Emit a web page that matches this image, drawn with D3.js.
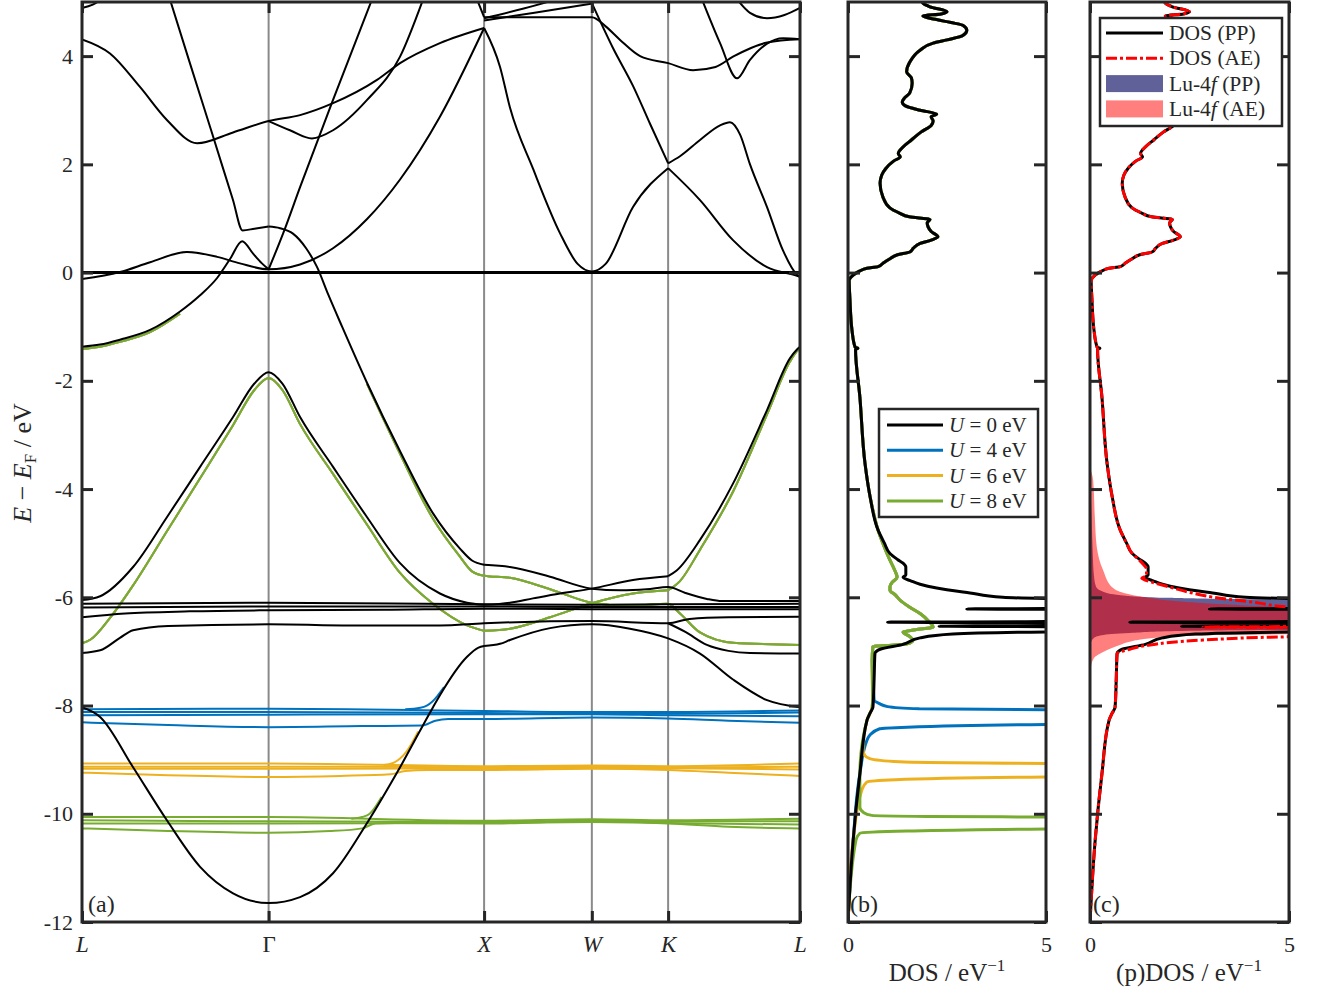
<!DOCTYPE html>
<html><head><meta charset="utf-8">
<script src="https://cdn.jsdelivr.net/npm/d3@7"></script>
<style>
body{margin:0;background:#fff}
text{font-family:"Liberation Serif","Times New Roman",serif;fill:#262626}
</style></head>
<body><svg id="fig" width="1320" height="991"></svg>
<script>
// ---------------- axis data ----------------
const kLabels = ["L","Γ","X","W","K","L"];
const kTicks  = [0, 0.866, 1.866, 2.366, 2.720, 3.332];
const yTicks  = [-12,-10,-8,-6,-4,-2,0,2,4];
const dosTicks = [0,5];
const legendB = ["0","4","6","8"];
const legendC = ["DOS (PP)","DOS (AE)","Lu-4f (PP)","Lu-4f (AE)"];

// ---------------- band structure, U = 0 (black) [k, E] ----------------
const bA  = [[0,4.31],[0.13,4.05],[0.269,3.43],[0.394,2.82],[0.534,2.39],[0.701,2.59],[0.866,2.80],[1.012,2.91],[1.165,3.13],[1.369,3.56],[1.476,3.87],[1.661,4.24],[1.866,4.52]];
const bB  = [[1.866,4.52],[1.940,3.80],[1.986,3.05],[2.093,1.92],[2.218,0.73],[2.30,0.16],[2.366,0.02],[2.43,0.16],[2.557,1.21],[2.720,1.93]];
const bB2 = [[2.720,1.93],[2.868,1.34],[3.021,0.60],[3.179,0.10],[3.318,-0.06],[3.332,-0.08]];
const bC  = [[0.866,2.80],[0.965,2.63],[1.067,2.48],[1.165,2.63],[1.323,3.19],[1.476,3.99],[1.583,5.05]];
const bD1 = [[0.408,5.05],[0.50,3.88],[0.60,2.62],[0.70,1.35],[0.745,0.78],[0.80,0.81],[0.866,0.85]];
const bD2 = [[0.866,0.85],[0.919,0.82],[0.979,0.72],[1.040,0.45],[1.091,0.10],[1.142,-0.40],[1.207,-1.0],[1.323,-2.04],[1.476,-3.3],[1.629,-4.45],[1.754,-5.1],[1.810,-5.32],[1.866,-5.40]];
const bD3 = [[1.866,-5.40],[1.986,-5.44],[2.172,-5.62],[2.366,-5.84],[2.50,-5.87],[2.62,-5.85],[2.720,-5.81],[2.80,-5.92],[2.90,-6.03],[2.97,-6.07],[3.332,-6.07]];
const bE1 = [[0,-1.37],[0.084,-1.33],[0.176,-1.24],[0.316,-1.06],[0.455,-0.72],[0.548,-0.42],[0.627,-0.10],[0.687,0.25],[0.743,0.58],[0.794,0.35],[0.835,0.17],[0.866,0.06]];
const bE2 = [[0.866,0.06],[0.933,0.72],[1.012,1.58],[1.165,3.19],[1.346,5.05]];
const bF  = [[0,-0.12],[0.176,0.01],[0.316,0.19],[0.487,0.38],[0.627,0.29],[0.733,0.17],[0.866,0.06],[1.012,0.15],[1.165,0.45],[1.323,0.99],[1.476,1.72],[1.661,2.88],[1.866,4.52]];
const bG1 = [[2.366,4.98],[2.464,4.15],[2.557,3.45],[2.636,2.75],[2.720,2.02]];
const bG2 = [[2.720,2.02],[2.775,2.15],[2.868,2.45],[2.961,2.72],[3.007,2.78],[3.054,2.55],[3.100,2.0],[3.179,1.21],[3.253,0.41],[3.318,-0.04],[3.332,-0.08]];
const bH1 = [[0,4.89],[0.05,4.95],[0.09,5.05]];
const bH2 = [[3.040,5.05],[3.10,4.80],[3.179,4.70],[3.26,4.76],[3.332,4.89]];
const bI  = [[2.877,5.05],[2.961,4.24],[3.040,3.59],[3.10,3.93],[3.179,4.23],[3.253,4.33],[3.332,4.31]];
const bJ  = [[1.866,4.72],[2.1,4.72],[2.366,4.72],[2.43,4.55],[2.497,4.30],[2.59,4.0],[2.720,3.87],[2.836,3.74],[2.94,3.80],[3.021,3.99],[3.18,4.25],[3.332,4.31]];
const bK1 = [[1.866,4.66],[2.1,4.80],[2.366,4.97]];
const bK2 = [[1.866,4.70],[2.05,4.88],[2.204,5.05]];
const bL  = [[1.833,5.05],[1.866,4.72]];
const bM1 = [[0,-6.05],[0.084,-5.98],[0.237,-5.44],[0.394,-4.52],[0.548,-3.59],[0.701,-2.67],[0.80,-2.05],[0.866,-1.84],[0.93,-2.05],[1.012,-2.67],[1.165,-3.59],[1.323,-4.52],[1.476,-5.37],[1.661,-5.93],[1.787,-6.10],[1.866,-6.14]];
const bM2 = [[1.866,-6.14],[1.986,-6.10],[2.093,-6.02],[2.218,-5.93],[2.366,-5.84],[2.557,-5.68],[2.720,-5.61]];
const bM3 = [[2.720,-5.61],[2.761,-5.50],[2.868,-4.94],[3.021,-3.90],[3.179,-2.54],[3.286,-1.58],[3.318,-1.42],[3.332,-1.37]];
const f0a = [[0,-6.12],[0.866,-6.10],[1.866,-6.13],[2.366,-6.14],[2.720,-6.13],[3.332,-6.12]];
const f0b = [[0,-6.19],[0.866,-6.17],[1.866,-6.17],[2.366,-6.18],[2.720,-6.18],[3.332,-6.18]];
const f0c = [[0,-6.37],[0.2,-6.30],[0.5,-6.26],[0.866,-6.24],[1.4,-6.23],[1.866,-6.21],[2.366,-6.22],[2.720,-6.22],[3.332,-6.22]];
const f0d = [[0,-7.03],[0.084,-6.98],[0.176,-6.75],[0.237,-6.61],[0.40,-6.53],[0.866,-6.50],[1.3,-6.52],[1.661,-6.52],[1.866,-6.48],[2.366,-6.44],[2.720,-6.48],[2.82,-6.40],[3.0,-6.37],[3.332,-6.36]];
const bO  = [[2.720,-6.48],[2.80,-6.64],[2.90,-6.88],[3.0,-6.99],[3.10,-7.03],[3.332,-7.04]];
const bN1 = [[0,-8.03],[0.084,-8.21],[0.237,-9.14],[0.394,-10.12],[0.548,-10.98],[0.701,-11.47],[0.866,-11.65],[1.012,-11.54],[1.165,-11.10],[1.323,-10.17],[1.476,-9.14],[1.629,-8.03],[1.661,-7.81],[1.787,-7.1],[1.840,-6.93],[1.866,-6.90]];
const bN2 = [[1.866,-6.90],[1.94,-6.86],[1.986,-6.79],[2.172,-6.57],[2.366,-6.50],[2.543,-6.58],[2.720,-6.76],[2.868,-7.04],[3.021,-7.52],[3.179,-7.90],[3.332,-8.03]];
const bandsU0 = [bA,bB,bB2,bC,bD1,bD2,bD3,bE1,bE2,bF,bG1,bG2,bH1,bH2,bI,bJ,bK1,bK2,bL,bM1,bM2,bM3,f0a,f0b,f0c,f0d,bO,bN1,bN2];

// ---------------- dispersive bands shared by U = 4, 6, 8 ----------------
const cBell  = [[0,-6.85],[0.04,-6.78],[0.13,-6.38],[0.237,-5.78],[0.394,-4.78],[0.548,-3.80],[0.701,-2.82],[0.80,-2.17],[0.866,-1.95],[0.93,-2.17],[1.012,-2.80],[1.165,-3.72],[1.323,-4.66],[1.476,-5.55],[1.629,-6.12],[1.787,-6.52],[1.866,-6.62]];
const cBellR = [[1.866,-6.62],[1.986,-6.58],[2.172,-6.37],[2.366,-6.11],[2.557,-5.93],[2.720,-5.87]];
const cBellL = [[2.720,-5.87],[2.775,-5.70],[2.868,-5.12],[3.021,-4.05],[3.179,-2.62],[3.286,-1.64],[3.318,-1.45],[3.332,-1.40]];
const cD     = [[1.323,-2.06],[1.476,-3.35],[1.629,-4.55],[1.754,-5.25],[1.810,-5.52],[1.866,-5.60],[1.986,-5.64],[2.172,-5.85],[2.366,-6.10],[2.543,-6.16],[2.720,-6.12],[2.775,-6.30],[2.868,-6.65],[3.021,-6.84],[3.332,-6.88]];
const cLowL  = [[0,-1.41],[0.084,-1.37],[0.176,-1.28],[0.316,-1.10],[0.455,-0.76]];
const bandsC = [cBell,cBellR,cBellL,cD,cLowL];

// ---------------- Lu-4f bands, U = 4 / 6 / 8 ----------------
const fb1 = [[0,-8.07],[0.866,-8.06],[1.866,-8.10],[2.366,-8.12],[2.720,-8.12],[3.332,-8.09]];
const fb2 = [[0,-8.12],[0.866,-8.12],[1.866,-8.14],[2.366,-8.15],[2.720,-8.15],[3.332,-8.13]];
const fb3 = [[0,-8.18],[0.866,-8.17],[1.866,-8.16],[2.366,-8.16],[2.720,-8.18],[3.332,-8.20]];
const fb4 = [[0,-8.31],[0.40,-8.36],[0.866,-8.40],[1.3,-8.38],[1.58,-8.37],[1.64,-8.28],[1.70,-8.25],[1.866,-8.25],[2.366,-8.22],[2.720,-8.24],[3.0,-8.28],[3.332,-8.32]];
const fbBend = [[1.50,-8.07],[1.57,-8.04],[1.60,-8.0],[1.625,-7.93],[1.65,-7.82],[1.68,-7.66]];
const fy1 = [[0,-9.07],[0.866,-9.07],[1.866,-9.12],[2.366,-9.11],[2.720,-9.12],[3.332,-9.07]];
const fy2 = [[0,-9.13],[0.866,-9.13],[1.866,-9.14],[2.366,-9.13],[2.720,-9.14],[3.332,-9.13]];
const fy3 = [[0,-9.17],[0.866,-9.17],[1.866,-9.16],[2.366,-9.15],[2.720,-9.16],[3.332,-9.18]];
const fy4 = [[0,-9.24],[0.40,-9.29],[0.866,-9.32],[1.2,-9.30],[1.43,-9.27],[1.50,-9.21],[1.60,-9.19],[1.866,-9.19],[2.366,-9.17],[2.720,-9.19],[3.0,-9.24],[3.332,-9.30]];
const fyBend = [[1.40,-9.10],[1.45,-9.05],[1.476,-8.98],[1.50,-8.88],[1.53,-8.70],[1.56,-8.48]];
const fg1 = [[0,-10.06],[0.866,-10.06],[1.866,-10.13],[2.366,-10.10],[2.720,-10.12],[3.332,-10.09]];
const fg2 = [[0,-10.12],[0.866,-10.14],[1.866,-10.15],[2.366,-10.13],[2.720,-10.14],[3.332,-10.14]];
const fg3 = [[0,-10.18],[0.866,-10.18],[1.866,-10.17],[2.366,-10.15],[2.720,-10.17],[3.332,-10.20]];
const fg4 = [[0,-10.27],[0.40,-10.32],[0.866,-10.35],[1.15,-10.32],[1.30,-10.27],[1.36,-10.18],[1.45,-10.17],[1.866,-10.18],[2.366,-10.14],[2.720,-10.18],[3.0,-10.24],[3.332,-10.27]];
const fgBend = [[1.25,-10.09],[1.30,-10.06],[1.335,-10.0],[1.36,-9.88],[1.39,-9.69]];
const fU4 = [fb1,fb2,fb3,fb4,fbBend];
const fU6 = [fy1,fy2,fy3,fy4,fyBend];
const fU8 = [fg1,fg2,fg3,fg4,fgBend];

// ---------------- DOS [E, DOS] ----------------
const dosTop = [[5.05,1.85],[4.98,1.89],[4.91,2.07],[4.82,2.50],[4.78,2.35],[4.74,1.89],[4.68,2.2],[4.62,2.6],[4.57,2.90],[4.48,3.0],[4.38,2.9],[4.30,2.5],[4.24,2.15],[4.11,1.82],[3.89,1.56],[3.71,1.48],[3.60,1.60],[3.50,1.62],[3.32,1.56],[3.22,1.42],[3.15,1.37],[3.08,1.45],[3.0,1.82],[2.93,2.24],[2.88,2.10],[2.80,2.15],[2.72,2.10],[2.60,1.85],[2.45,1.60],[2.32,1.39],[2.20,1.27],[2.14,1.32],[2.06,1.15],[1.92,0.95],[1.80,0.85],[1.65,0.81],[1.40,0.88],[1.20,1.05],[1.10,1.30],[1.03,1.55],[0.98,2.07],[0.92,2.0],[0.85,2.02],[0.76,2.10],[0.66,2.27],[0.60,2.1],[0.54,1.82],[0.45,1.65],[0.38,1.56],[0.33,1.25],[0.25,1.05],[0.17,0.88],[0.11,0.76],[0.08,0.48],[0.03,0.30],[-0.01,0.20],[-0.08,0.08],[-0.14,0.03],[-0.51,0.05],[-1.06,0.10],[-1.38,0.18],[-1.40,0.25],[-1.42,0.19],[-2.30,0.30],[-3.53,0.43],[-4.15,0.56],[-4.76,0.76]];
const dosU0low = [[-5.0,0.92],[-5.19,1.06],[-5.30,1.25],[-5.37,1.39],[-5.44,1.46],[-5.59,1.46],[-5.63,1.39],[-5.70,1.6],[-5.76,1.82],[-5.83,2.24],[-5.92,3.08],[-6.0,3.91],[-6.02,4.97],[-6.04,8],[-6.20,8],[-6.215,3.0],[-6.23,8],[-6.44,8],[-6.46,1.0],[-6.48,8],[-6.52,8],[-6.535,2.3],[-6.55,8],[-6.62,8],[-6.64,5.0],[-6.68,2.65],[-6.75,1.82],[-6.87,1.39],[-6.96,0.81]];
const dosTail = [[-7.04,0.68],[-7.5,0.66],[-8.03,0.63],[-8.15,0.55],[-8.27,0.48],[-9.26,0.30],[-10.49,0.13],[-12,0.0]];
const dosCmid = [[-5.0,0.88],[-5.3,1.05],[-5.5,1.18],[-5.63,1.24],[-5.72,1.12],[-5.80,1.06],[-5.87,1.06],[-5.96,1.2],[-6.05,1.31],[-6.18,1.55],[-6.30,1.82],[-6.45,2.05],[-6.55,2.15],[-6.60,1.7],[-6.64,1.39],[-6.72,1.55],[-6.79,1.64],[-6.85,1.55],[-6.88,1.2],[-6.91,0.63],[-7.16,0.61]];
const dosU4low = [[-7.9,0.66],[-7.96,0.78],[-8.02,1.0],[-8.06,1.8],[-8.08,5.0],[-8.09,8],[-8.33,8],[-8.35,5.0],[-8.40,1.5],[-8.43,0.8],[-8.55,0.55],[-8.64,0.48],[-9.26,0.30],[-10.49,0.13],[-12,0]];
const dosU6low = [[-7.9,0.62],[-8.03,0.61],[-8.27,0.48],[-8.82,0.38],[-8.92,0.42],[-8.98,0.55],[-9.04,1.3],[-9.07,5],[-9.08,8],[-9.30,8],[-9.32,5],[-9.37,1.2],[-9.41,0.48],[-9.56,0.35],[-10.49,0.13],[-12,0]];
const dosU8low = [[-7.9,0.62],[-8.03,0.61],[-8.27,0.48],[-9.26,0.30],[-9.88,0.30],[-9.98,0.40],[-10.03,0.60],[-10.05,2.0],[-10.06,5],[-10.07,8],[-10.27,8],[-10.28,5],[-10.32,1.5],[-10.36,0.30],[-10.49,0.2],[-12,0]];
const dosAElow = [[-5.0,0.92],[-5.19,1.06],[-5.30,1.22],[-5.40,1.35],[-5.48,1.42],[-5.60,1.42],[-5.65,1.30],[-5.72,1.55],[-5.80,1.95],[-5.90,2.45],[-6.0,3.1],[-6.1,4.2],[-6.18,5.0],[-6.20,8],[-6.53,8],[-6.55,2.84],[-6.57,8],[-6.70,8],[-6.73,5],[-6.79,2.84],[-6.88,1.51],[-6.96,1.0]];
const f4PP = [[-3.8,0],[-4.5,0.04],[-5.2,0.07],[-5.6,0.10],[-5.80,0.15],[-5.90,0.35],[-5.97,0.9],[-6.01,2.0],[-6.03,3.5],[-6.05,8],[-6.58,8],[-6.62,2.5],[-6.66,1.0],[-6.70,0.3],[-6.75,0.1],[-6.85,0.02],[-7.0,0]];
const f4AE = [[-3.6,0],[-3.84,0.08],[-4.5,0.12],[-5.07,0.17],[-5.5,0.33],[-5.83,0.58],[-5.92,0.85],[-6.0,1.4],[-6.08,2.3],[-6.14,3.6],[-6.19,5.5],[-6.21,8],[-6.66,8],[-6.70,3.0],[-6.75,1.6],[-6.82,1.0],[-6.88,0.75],[-7.01,0.33],[-7.12,0.10],[-7.3,0.02],[-7.5,0]];

const dosU0 = dosTop.concat(dosU0low, dosTail);
const dosU4 = dosTop.concat(dosCmid, dosU4low);
const dosU6 = dosTop.concat(dosCmid, dosU6low);
const dosU8 = dosTop.concat(dosCmid, dosU8low);
const dosAE = dosTop.concat(dosAElow, dosTail);

// ---------------- styles ----------------
const C = {u0:"#000000",u4:"#0072BD",u6:"#EDB120",u8:"#77AC30",ax:"#262626",grid:"#8a8a8a",ae:"#FF0000",ppFill:"#00005a",aeFill:"#FF0000"};
const FONT = '"Liberation Serif","Times New Roman",serif';

const svg = d3.select("#fig");
const yTop = 2, yBot = 922;
const xK = d3.scaleLinear().domain([0,3.332]).range([82,800]);
const yE = d3.scaleLinear().domain([-12,5]).range([yBot,yTop]);
const xB = d3.scaleLinear().domain([0,5]).range([848,1046]);
const xC = d3.scaleLinear().domain([0,5]).range([1090,1289]);

const defs = svg.append("defs");
function clip(id,x0,x1){defs.append("clipPath").attr("id",id).append("rect").attr("x",x0).attr("y",yTop).attr("width",x1-x0).attr("height",yBot-yTop);}
clip("ca",82,800); clip("cb",848,1046); clip("cc",1090,1289);

// ---------- panel (a) ----------
const ga = svg.append("g").attr("clip-path","url(#ca)");
kTicks.slice(1,5).forEach(k=>{
  ga.append("line").attr("x1",xK(k)).attr("x2",xK(k)).attr("y1",yTop).attr("y2",yBot)
    .attr("stroke",C.grid).attr("stroke-width",2);
});
const bandLine = d3.line().x(d=>xK(d[0])).y(d=>yE(d[1])).curve(d3.curveMonotoneX);
function drawBands(list,color,w){
  list.forEach(b=>ga.append("path").attr("d",bandLine(b)).attr("fill","none").attr("stroke",color).attr("stroke-width",w));
}
drawBands(bandsC,C.u4,2);
drawBands(fU4,C.u4,2);
drawBands(fU6,C.u6,2);
drawBands(bandsC,C.u6,2);
drawBands(bandsC,C.u8,2);
drawBands(fU8,C.u8,2);
drawBands(bandsU0,C.u0,2);
ga.append("line").attr("x1",xK(0)).attr("x2",xK(3.332)).attr("y1",yE(0)).attr("y2",yE(0))
  .attr("stroke","#000").attr("stroke-width",3);

// ---------- panel (b) ----------
const gb = svg.append("g").attr("clip-path","url(#cb)");
const dosLineB = d3.line().x(d=>xB(d[1])).y(d=>yE(d[0])).curve(d3.curveMonotoneY);
[[dosU4,C.u4],[dosU6,C.u6],[dosU8,C.u8],[dosU0,C.u0]].forEach(([d,c])=>{
  gb.append("path").attr("d",dosLineB(d)).attr("fill","none").attr("stroke",c).attr("stroke-width",3).attr("stroke-linejoin","round");
});

// ---------- panel (c) ----------
const gc = svg.append("g").attr("clip-path","url(#cc)");
const areaC = d3.area().y(d=>yE(d[0])).x0(xC(0)).x1(d=>xC(d[1])).curve(d3.curveMonotoneY);
gc.append("path").attr("d",areaC(f4PP)).attr("fill",C.ppFill).attr("fill-opacity",0.62);
gc.append("path").attr("d",areaC(f4AE)).attr("fill",C.aeFill).attr("fill-opacity",0.5);
const dosLineC = d3.line().x(d=>xC(d[1])).y(d=>yE(d[0])).curve(d3.curveMonotoneY);
gc.append("path").attr("d",dosLineC(dosU0)).attr("fill","none").attr("stroke","#000").attr("stroke-width",3).attr("stroke-linejoin","round");
gc.append("path").attr("d",dosLineC(dosAE)).attr("fill","none").attr("stroke",C.ae).attr("stroke-width",3)
  .attr("stroke-dasharray","11,3,3,3");

// ---------- axes / frames ----------
function styleAxis(g){
  g.select(".domain").remove();
  g.selectAll(".tick line").attr("stroke",C.ax).attr("stroke-width",3);
  g.selectAll(".tick text").attr("fill",C.ax).style("font-family",FONT).style("font-size","22px");
}
function frame(x0,x1){
  svg.append("rect").attr("x",x0).attr("y",yTop).attr("width",x1-x0).attr("height",yBot-yTop)
    .attr("fill","none").attr("stroke",C.ax).attr("stroke-width",3);
}
const fmt = d=> d<0 ? "-"+Math.abs(d) : String(d);
styleAxis(svg.append("g").attr("transform","translate(82,0)").call(d3.axisLeft(yE).tickValues(yTicks).tickSize(-11).tickPadding(9).tickFormat(fmt)));
styleAxis(svg.append("g").attr("transform","translate(800,0)").call(d3.axisRight(yE).tickValues(yTicks).tickSize(-11).tickFormat("")));
const axBa = svg.append("g").attr("transform",`translate(0,${yBot})`).call(d3.axisBottom(xK).tickValues(kTicks).tickSize(-11).tickPadding(14).tickFormat((d,i)=>kLabels[i]));
styleAxis(axBa);
axBa.selectAll(".tick text").style("font-size","23px").style("font-style",(d,i)=>kLabels[i]==="Γ"?"normal":"italic");
styleAxis(svg.append("g").attr("transform",`translate(0,${yTop})`).call(d3.axisTop(xK).tickValues(kTicks).tickSize(-11).tickFormat("")));
frame(82,800);

[[xB,848,1046],[xC,1090,1289]].forEach(([sx,x0,x1])=>{
  styleAxis(svg.append("g").attr("transform",`translate(${x0},0)`).call(d3.axisLeft(yE).tickValues(yTicks).tickSize(-12).tickFormat("")));
  styleAxis(svg.append("g").attr("transform",`translate(${x1},0)`).call(d3.axisRight(yE).tickValues(yTicks).tickSize(-12).tickFormat("")));
  styleAxis(svg.append("g").attr("transform",`translate(0,${yBot})`).call(d3.axisBottom(sx).tickValues(dosTicks).tickSize(-11).tickPadding(14).tickFormat(d3.format("d"))));
  styleAxis(svg.append("g").attr("transform",`translate(0,${yTop})`).call(d3.axisTop(sx).tickValues(dosTicks).tickSize(-11).tickFormat("")));
  frame(x0,x1);
});

// ---------- labels ----------
const yl = svg.append("text").attr("transform","translate(31,463) rotate(-90)").attr("text-anchor","middle").style("font-size","26px");
yl.append("tspan").style("font-style","italic").text("E");
yl.append("tspan").text(" − ");
yl.append("tspan").style("font-style","italic").text("E");
yl.append("tspan").attr("dy",5).style("font-size","17px").text("F");
yl.append("tspan").attr("dy",-5).text(" / eV");

function dosLabel(cx,pre){
  const t = svg.append("text").attr("x",cx).attr("y",981).attr("text-anchor","middle").style("font-size","25px");
  t.append("tspan").text(pre+"DOS / eV");
  t.append("tspan").attr("dy",-10).style("font-size","17px").text("−1");
}
dosLabel(947,""); dosLabel(1189,"(p)");

[["(a)",88],["(b)",850],["(c)",1093]].forEach(([s,x])=>svg.append("text").attr("x",x).attr("y",912).style("font-size","24px").text(s));

// ---------- legend (b) ----------
svg.append("rect").attr("x",879).attr("y",409).attr("width",159).attr("height",108).attr("fill","#fff").attr("stroke",C.ax).attr("stroke-width",2.5);
[C.u0,C.u4,C.u6,C.u8].forEach((c,i)=>{
  const y = 425 + i*25.3;
  svg.append("line").attr("x1",887).attr("x2",943).attr("y1",y).attr("y2",y).attr("stroke",c).attr("stroke-width",3);
  const t = svg.append("text").attr("x",949).attr("y",y+7).style("font-size","21px");
  t.append("tspan").style("font-style","italic").text("U");
  t.append("tspan").text(" = "+legendB[i]+" eV");
});

// ---------- legend (c) ----------
svg.append("rect").attr("x",1100).attr("y",18).attr("width",182).attr("height",108).attr("fill","#fff").attr("stroke",C.ax).attr("stroke-width",2.5);
legendC.forEach((s,i)=>{
  const y = 33 + i*25.3;
  if(i===0) svg.append("line").attr("x1",1106).attr("x2",1163).attr("y1",y).attr("y2",y).attr("stroke","#000").attr("stroke-width",3);
  if(i===1) svg.append("line").attr("x1",1106).attr("x2",1163).attr("y1",y).attr("y2",y).attr("stroke",C.ae).attr("stroke-width",3).attr("stroke-dasharray","11,3,3,3");
  if(i===2) svg.append("rect").attr("x",1106).attr("y",y-8.5).attr("width",57).attr("height",17).attr("fill",C.ppFill).attr("fill-opacity",0.62);
  if(i===3) svg.append("rect").attr("x",1106).attr("y",y-8.5).attr("width",57).attr("height",17).attr("fill",C.aeFill).attr("fill-opacity",0.5);
  const t = svg.append("text").attr("x",1169).attr("y",y+7).style("font-size","21.5px");
  if(i<2){ t.text(s); }
  else {
    t.append("tspan").text("Lu-4");
    t.append("tspan").style("font-style","italic").text("f");
    t.append("tspan").text(s.slice(5));
  }
});
</script></body></html>
